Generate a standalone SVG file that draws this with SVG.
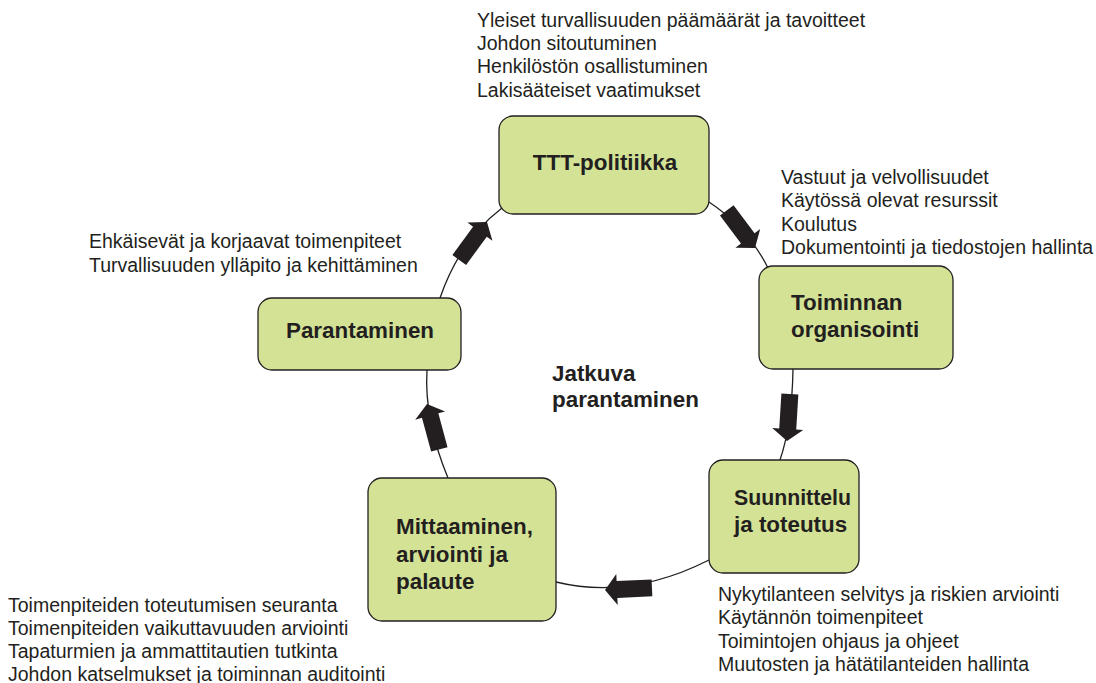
<svg xmlns="http://www.w3.org/2000/svg" xmlns:xlink="http://www.w3.org/1999/xlink" width="1096" height="683" viewBox="0 0 1096 683">
<style>
.box{fill:#d4e295;stroke:#231f20;stroke-width:1.3}
.lbl{font-family:"Liberation Sans",Arial,Helvetica,sans-serif;font-weight:bold;font-size:22.4px;fill:#231f20}
.txt{font-family:"Liberation Sans",Arial,Helvetica,sans-serif;font-size:19.5px;fill:#231f20}
.con{fill:none;stroke:#231f20;stroke-width:1.3}
.arr{fill:#231f20}
</style>
<defs>
<polygon id="arr" points="0,0 -12,-15.5 -12,-8.5 -47,-8.5 -47,8.5 -12,8.5 -12,15.5"/>
</defs>
<rect width="1096" height="683" fill="#ffffff"/>
<g id="connectors">
<path class="con" d="M709,202 Q748,228 768,268"/>
<path class="con" d="M793,369 Q792,425 780,460"/>
<path class="con" d="M709,560 Q630,600 556,582"/>
<path class="con" d="M448,478 Q424,420 427,370"/>
<path class="con" d="M440,298 Q460,240 502,208"/>
<use class="arr" xlink:href="#arr" href="#arr" transform="translate(755,248) rotate(53.1)"/>
<use class="arr" xlink:href="#arr" href="#arr" transform="translate(787,441) rotate(93.5)"/>
<use class="arr" xlink:href="#arr" href="#arr" transform="translate(605,590) rotate(177.4)"/>
<use class="arr" xlink:href="#arr" href="#arr" transform="translate(427,404) rotate(-105.2)"/>
<use class="arr" xlink:href="#arr" href="#arr" transform="translate(487,222) rotate(-53.8)"/>
</g>
<g id="ttt">
<rect class="box" x="499" y="116" width="210" height="98" rx="14"/>
<text class="lbl" x="605" y="170" text-anchor="middle">TTT-politiikka</text>
</g>
<g id="toiminnan">
<rect class="box" x="759" y="266" width="194" height="103" rx="14"/>
<text class="lbl" x="791" y="310">Toiminnan</text>
<text class="lbl" x="791" y="337">organisointi</text>
</g>
<g id="suunnittelu">
<rect class="box" x="709" y="460" width="150" height="113" rx="14"/>
<text class="lbl" x="734" y="505" textLength="117" lengthAdjust="spacingAndGlyphs">Suunnittelu</text>
<text class="lbl" x="734" y="532">ja toteutus</text>
</g>
<g id="mittaaminen">
<rect class="box" x="368" y="478" width="188" height="143" rx="14"/>
<text class="lbl" x="396" y="534">Mittaaminen,</text>
<text class="lbl" x="396" y="561.5">arviointi ja</text>
<text class="lbl" x="396" y="589">palaute</text>
</g>
<g id="parantaminen">
<rect class="box" x="258" y="298" width="203" height="72" rx="14"/>
<text class="lbl" x="360" y="338" text-anchor="middle">Parantaminen</text>
</g>
<g id="center">
<text class="lbl" x="552" y="381">Jatkuva</text>
<text class="lbl" x="552" y="407">parantaminen</text>
</g>
<g id="notes-top">
<text class="txt" x="477" y="26.5">Yleiset turvallisuuden päämäärät ja tavoitteet</text>
<text class="txt" x="477" y="50">Johdon sitoutuminen</text>
<text class="txt" x="477" y="73.3">Henkilöstön osallistuminen</text>
<text class="txt" x="477" y="96.7">Lakisääteiset vaatimukset</text>
</g>
<g id="notes-right">
<text class="txt" x="781" y="184">Vastuut ja velvollisuudet</text>
<text class="txt" x="781" y="207.3">Käytössä olevat resurssit</text>
<text class="txt" x="781" y="230.6">Koulutus</text>
<text class="txt" x="781" y="254">Dokumentointi ja tiedostojen hallinta</text>
</g>
<g id="notes-left">
<text class="txt" x="89" y="248">Ehkäisevät ja korjaavat toimenpiteet</text>
<text class="txt" x="89" y="272">Turvallisuuden ylläpito ja kehittäminen</text>
</g>
<g id="notes-bottom-right">
<text class="txt" x="718" y="601">Nykytilanteen selvitys ja riskien arviointi</text>
<text class="txt" x="718" y="624.3">Käytännön toimenpiteet</text>
<text class="txt" x="718" y="647.6">Toimintojen ohjaus ja ohjeet</text>
<text class="txt" x="718" y="671">Muutosten ja hätätilanteiden hallinta</text>
</g>
<g id="notes-bottom-left">
<text class="txt" x="8" y="612">Toimenpiteiden toteutumisen seuranta</text>
<text class="txt" x="8" y="635">Toimenpiteiden vaikuttavuuden arviointi</text>
<text class="txt" x="8" y="658">Tapaturmien ja ammattitautien tutkinta</text>
<text class="txt" x="8" y="681">Johdon katselmukset ja toiminnan auditointi</text>
</g>
</svg>
